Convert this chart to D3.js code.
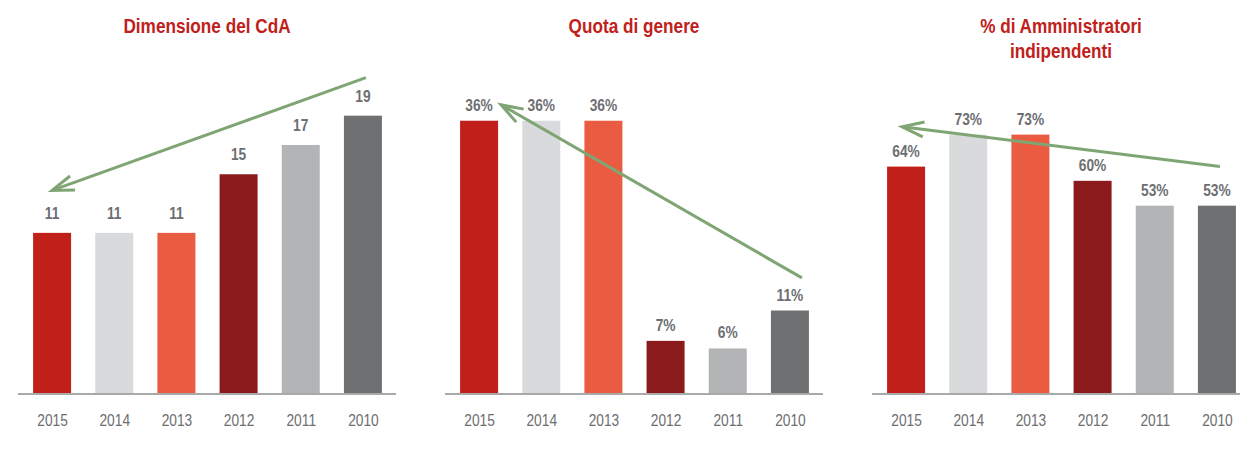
<!DOCTYPE html>
<html>
<head>
<meta charset="utf-8">
<script src="https://cdn.jsdelivr.net/npm/d3@7"></script>
<style>
  html, body { margin: 0; padding: 0; background: #fff; }
  text { font-family: "Liberation Sans", Arial, sans-serif; }
</style>
</head>
<body>
<div id="chart"></div>
<script>
// categories shared by the three panels
const years = ['2015', '2014', '2013', '2012', '2011', '2010'];
const barColors = ['#c1201a', '#d9dadb', '#e95c42', '#8a1a1b', '#b3b4b6', '#6f7072'];

// panel titles (multi-line where needed)
const titles = [
  ['Dimensione del CdA'],
  ['Quota di genere'],
  ['% di Amministratori', 'indipendenti']
];

// series values
const boardSize = [11, 11, 11, 15, 17, 19];
const genderQuota = [36, 36, 36, 7, 6, 11];
const independent = [64, 73, 73, 60, 53, 53];
const seriesList = [boardSize, genderQuota, independent];
const suffixes = ['', '%', '%'];

// y-axis maxima for each panel
const yMaxes = [22.8, 44, 94];

// trend arrows: [category, value] of tail and head
const trendFrom = [['2010', 21.6], ['2010', 15.3], ['2010', 64]];
const trendTo = [['2015', 13.9], ['2015', 38.1], ['2015', 75.2]];

const width = 1240, height = 464;
const panelStep = 427;
const baseY = 394, topY = 60;
// no condensed font available, so squeeze text horizontally
const narrow = 0.86;
// gap between bar top and its label baseline
const labelGap = [14, 10, 10];

const svg = d3.select('#chart').append('svg')
  .attr('width', width)
  .attr('height', height);

const x = d3.scalePoint().domain(years).range([21, 394]).padding(0.5);
const barW = 38;
const color = d3.scaleOrdinal().domain(years).range(barColors);

// small nudges so arrows sit where they do in the original
const tailDx = [3, 12, 3];
const headDx = [0, 22, -4];

seriesList.forEach(function (values, p) {
  const g = svg.append('g').attr('transform', 'translate(' + (p * panelStep) + ',0)');
  const y = d3.scaleLinear().domain([0, yMaxes[p]]).range([baseY, topY]);
  const data = years.map(function (yr, i) { return { year: yr, value: values[i] }; });

  // title
  const t = g.append('text')
    .attr('transform', 'translate(207,33) scale(' + narrow + ',1)')
    .attr('text-anchor', 'middle')
    .attr('fill', '#c1201a')
    .style('font-size', '20px')
    .style('font-weight', 'bold');
  titles[p].forEach(function (line, i) {
    t.append('tspan').attr('x', 0).attr('dy', i === 0 ? 0 : 25).text(line);
  });

  // bars
  g.selectAll('rect.bar').data(data).enter().append('rect')
    .attr('class', 'bar')
    .attr('x', function (d) { return x(d.year) - barW / 2; })
    .attr('y', function (d) { return y(d.value); })
    .attr('width', barW)
    .attr('height', function (d) { return baseY - y(d.value); })
    .attr('fill', function (d) { return color(d.year); });

  // baseline
  g.append('line')
    .attr('x1', 18).attr('x2', 396)
    .attr('y1', baseY).attr('y2', baseY)
    .attr('stroke', '#a9a9a9')
    .attr('stroke-width', 2);

  // value labels
  g.selectAll('text.val').data(data).enter().append('text')
    .attr('class', 'val')
    .attr('transform', function (d) {
      return 'translate(' + x(d.year) + ',' + (y(d.value) - labelGap[p]) + ') scale(' + narrow + ',1)';
    })
    .attr('text-anchor', 'middle')
    .attr('fill', '#6d6e71')
    .style('font-size', '16px')
    .style('font-weight', 'bold')
    .text(function (d) { return d.value + suffixes[p]; });

  // year labels
  const axis = d3.axisBottom(x).tickSize(0).tickPadding(21);
  const ax = g.append('g').attr('transform', 'translate(0,' + baseY + ')').call(axis);
  ax.select('.domain').remove();
  ax.selectAll('text')
    .attr('fill', '#6d6e71')
    .attr('transform', 'scale(' + narrow + ',1)')
    .style('font-size', '16px')
    .style('font-family', '"Liberation Sans", Arial, sans-serif');

  // trend arrow
  const x1 = x(trendFrom[p][0]) + tailDx[p], y1 = y(trendFrom[p][1]);
  const x2 = x(trendTo[p][0]) + headDx[p], y2 = y(trendTo[p][1]);
  const ang = Math.atan2(y1 - y2, x1 - x2);
  const armLen = 23, spread = 19 * Math.PI / 180;
  const green = '#80a574';
  g.append('line')
    .attr('x1', x1).attr('y1', y1).attr('x2', x2).attr('y2', y2)
    .attr('stroke', green).attr('stroke-width', 3);
  const head = d3.line();
  g.append('path')
    .attr('d', head([
      [x2 + armLen * Math.cos(ang - spread), y2 + armLen * Math.sin(ang - spread)],
      [x2, y2],
      [x2 + armLen * Math.cos(ang + spread), y2 + armLen * Math.sin(ang + spread)]
    ]))
    .attr('fill', 'none')
    .attr('stroke', green)
    .attr('stroke-width', 3)
    .attr('stroke-linejoin', 'miter');
});
</script>
</body>
</html>
